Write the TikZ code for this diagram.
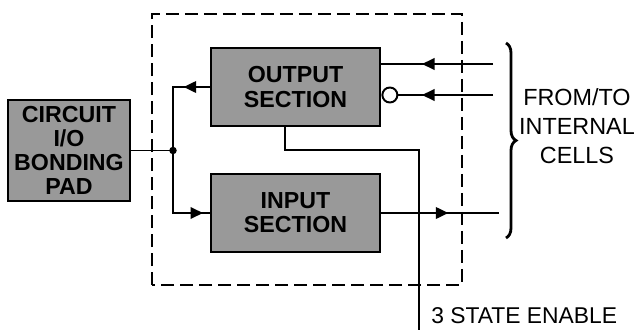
\documentclass[tikz,border=0pt]{standalone}
\usepackage{fontspec}
\setmainfont{Liberation Sans}
\usetikzlibrary{arrows.meta,calc,positioning,decorations.pathreplacing}

\begin{document}
\begin{tikzpicture}[
  blk/.style={draw, line width=1.6pt, fill=black!40, align=center, inner sep=0pt,
    font=\bfseries\fontsize{13.2}{13.8}\selectfont},
  wire/.style={line width=1.1pt},
  tip/.style={wire, -{Triangle[length=2.5mm,width=2.3mm]}},
  bub/.style={circle, draw, wire, fill=white, minimum size=0.3cm, inner sep=0pt}]

\useasboundingbox (0,0) rectangle (12.72,6.6);

% blocchi
\node[blk, minimum width=2.44cm, minimum height=2.02cm] (pad) at (1.38,3.59) {CIRCUIT\\I/O\\BONDING\\PAD};
\node[blk, minimum width=3.38cm, minimum height=1.56cm] (out) at (5.91,4.86) {OUTPUT\\SECTION};
\node[blk, minimum width=3.38cm, minimum height=1.56cm] (in) at (5.91,2.34) {INPUT\\SECTION};

% confine della cella I/O
\draw[wire, dash pattern=on 0.26cm off 0.12cm] (3.04,0.9) rectangle (9.24,6.32);

% lato pad
\coordinate (j) at (3.46,3.59);
\draw[wire] (pad.east) -- (j);
\draw[wire] (out.west) -| (j) |- (in.west);
\fill (j) circle (0.075);
\draw[tip] (out.west) -- ++(-0.52,0);
\draw[tip] (j |- in.west) -- ++(0.6,0);

% lato celle interne
\coordinate (o1) at (9.86,5.32);
\coordinate (o2) at (9.86,4.7);
\coordinate (i1) at (9.98,2.34);
\node[bub, anchor=west] (nb) at (out.east |- o2) {};
\draw[wire] (out.east |- o1) -- (o1);
\draw[wire] (nb.east) -- (o2);
\draw[tip] (o1) -- ++(-1.42,0);
\draw[tip] (o2) -- ++(-1.42,0);
\draw[wire] (in.east) -- (i1);
\draw[tip] (in.east) -- ++(1.34,0);

% abilitazione 3 stati
\coordinate (enk) at (8.38,3.6);
\coordinate (en) at (8.38,0);
\draw[wire] ([xshift=-0.21cm]out.south) |- (enk) -- (en);
\node[anchor=west, inner sep=0pt, font=\fontsize{13}{15}\selectfont] (enlbl) at (8.62,0.28) {3 STATE ENABLE};

% graffa
\draw[decorate, decoration={brace, amplitude=0.2cm}, line width=1.6pt] (10.12,5.74) -- (10.12,1.84);
\node[align=center, font=\fontsize{13.3}{16.4}\selectfont] (cells) at (11.54,4.08) {FROM/TO\\INTERNAL\\CELLS};

\end{tikzpicture}
\end{document}
